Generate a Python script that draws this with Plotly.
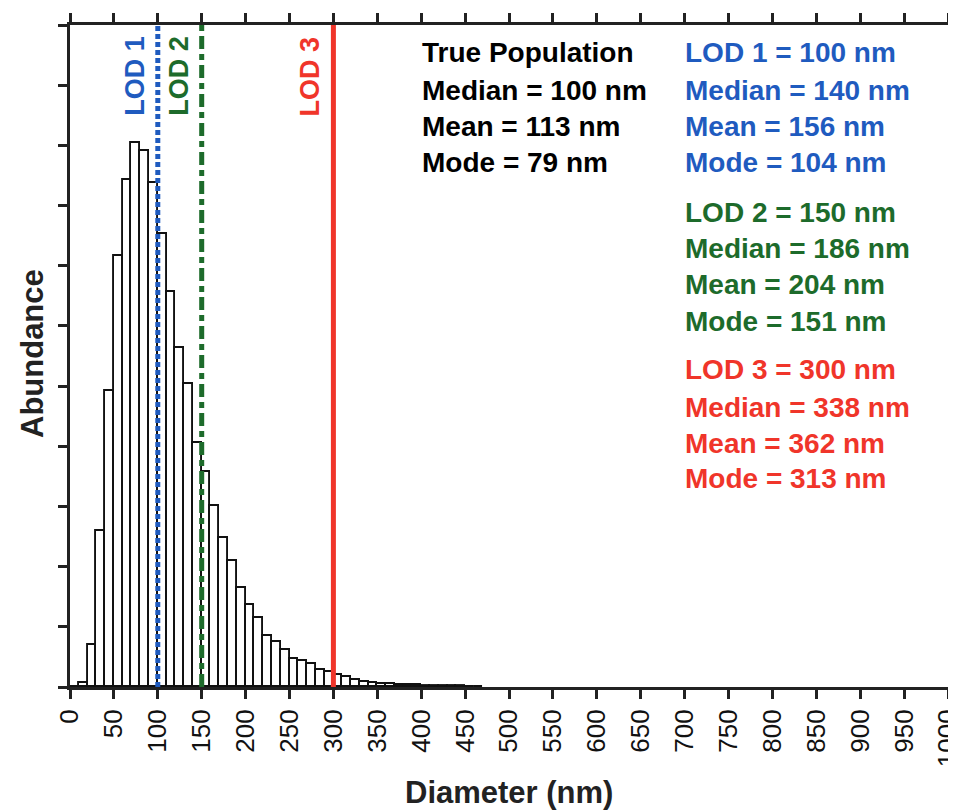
import plotly.graph_objects as go

# ---- data ----
bin_left = list(range(0, 470, 10))
abundance = [0.0, 0.07, 0.70, 2.60, 4.92, 7.16, 8.42, 9.04, 8.90, 8.38,
             7.53, 6.57, 5.64, 5.04, 4.05, 3.58, 3.01, 2.47, 2.09, 1.64,
             1.36, 1.14, 0.84, 0.74, 0.61, 0.47, 0.43, 0.38, 0.29, 0.25,
             0.20, 0.16, 0.12, 0.09, 0.07, 0.055, 0.045, 0.035, 0.03, 0.028,
             0.022, 0.018, 0.015, 0.012, 0.01, 0.008, 0.005]
bin_width = 10
x_ticks = list(range(0, 1001, 50))

lod_values = [100, 150, 300]
lod_names = ["LOD 1", "LOD 2", "LOD 3"]
lod_colors = ["#1f5bbf", "#1d6b2b", "#f0352a"]
lod_dashes = ["5px,3px", "13px,5px,6px,5px", "solid"]

true_lines = ["True Population", "Median = 100 nm", "Mean = 113 nm", "Mode = 79 nm"]
lod1_lines = ["LOD 1 = 100 nm", "Median = 140 nm", "Mean = 156 nm", "Mode = 104 nm"]
lod2_lines = ["LOD 2 = 150 nm", "Median = 186 nm", "Mean = 204 nm", "Mode = 151 nm"]
lod3_lines = ["LOD 3 = 300 nm", "Median = 338 nm", "Mean = 362 nm", "Mode = 313 nm"]

x_title = "Diameter (nm)"
y_title = "Abundance"

FONT = "Liberation Sans, Arial, Helvetica, sans-serif"
W, H = 956, 812
PAGE_OFF = 8  # default body margin of the html page
# plot area in page pixels
PL, PT, PR, PB = 70, 25, 948, 687
L = PL - PAGE_OFF
T = PT - PAGE_OFF
R = W - (PR - PAGE_OFF)
B = H - (PB - PAGE_OFF)
plot_w = PR - PL
plot_h = PB - PT

fig = go.Figure()
fig.add_trace(go.Bar(
    x=[b + bin_width / 2 for b in bin_left],
    y=abundance,
    width=bin_width,
    marker=dict(color="white", line=dict(color="#111111", width=1.9)),
    hoverinfo="skip",
))

for v, c, d in zip(lod_values, lod_colors, lod_dashes):
    fig.add_shape(type="line", xref="x", yref="paper", x0=v, x1=v, y0=0, y1=1,
                  line=dict(color=c, width=5, dash=d), layer="above")

def py_to_paper(py):
    return (PB - py) / plot_h

def px_to_paper(px):
    return (px - PL) / plot_w

annotations = []
for v, name, c in zip(lod_values, lod_names, lod_colors):
    annotations.append(dict(
        x=v, xref="x", y=py_to_paper(118), yref="paper",
        text="<b>%s</b>" % name, textangle=-90, showarrow=False,
        xanchor="right", yanchor="bottom", xshift=-6,
        font=dict(family=FONT, size=27, color=c)))

def add_block(lines, px, py_list, color):
    for t, py in zip(lines, py_list):
        annotations.append(dict(
            x=px_to_paper(px), xref="paper", y=py_to_paper(py), yref="paper",
            text="<b>%s</b>" % t, showarrow=False, xanchor="left", yanchor="middle",
            font=dict(family=FONT, size=28, color=color)))

add_block(true_lines, 420, [53, 90, 126, 162], "black")
add_block(lod1_lines, 683, [53, 90, 126, 162], lod_colors[0])
add_block(lod2_lines, 683, [212, 249, 285, 321], lod_colors[1])
add_block(lod3_lines, 683, [370, 407, 443, 479], lod_colors[2])

annotations.append(dict(
    x=px_to_paper(509), xref="paper", y=py_to_paper(792), yref="paper",
    text="<b>%s</b>" % x_title, showarrow=False, xanchor="center", yanchor="middle",
    font=dict(family=FONT, size=31, color="#222222")))
annotations.append(dict(
    x=px_to_paper(32), xref="paper", y=py_to_paper(354), yref="paper",
    text="<b>%s</b>" % y_title, showarrow=False, xanchor="center", yanchor="middle",
    textangle=-90, font=dict(family=FONT, size=31, color="#222222")))

fig.update_layout(
    width=W, height=H,
    margin=dict(l=L, r=R, t=T, b=B, autoexpand=False),
    plot_bgcolor="white", paper_bgcolor="white",
    showlegend=False, bargap=0,
    annotations=annotations,
    font=dict(family=FONT, color="#111111"),
)
fig.update_xaxes(
    range=[0, 1000], tickvals=x_ticks, ticktext=[str(t) for t in x_ticks],
    tickangle=-90, tickfont=dict(size=26, family=FONT, color="#111111"),
    ticks="outside", ticklen=9, tickwidth=2.5, tickcolor="#222222",
    showline=True, linecolor="#222222", linewidth=3, mirror="ticks",
    showgrid=False, zeroline=False, automargin=False,
    ticklabeloverflow="allow",
)
fig.update_yaxes(
    range=[0, 11], dtick=1, showticklabels=False,
    ticks="outside", ticklen=9, tickwidth=2.5, tickcolor="#222222",
    showline=True, linecolor="#222222", linewidth=3, mirror="ticks",
    showgrid=False, zeroline=False, automargin=False,
)

fig.write_html("out.html")
